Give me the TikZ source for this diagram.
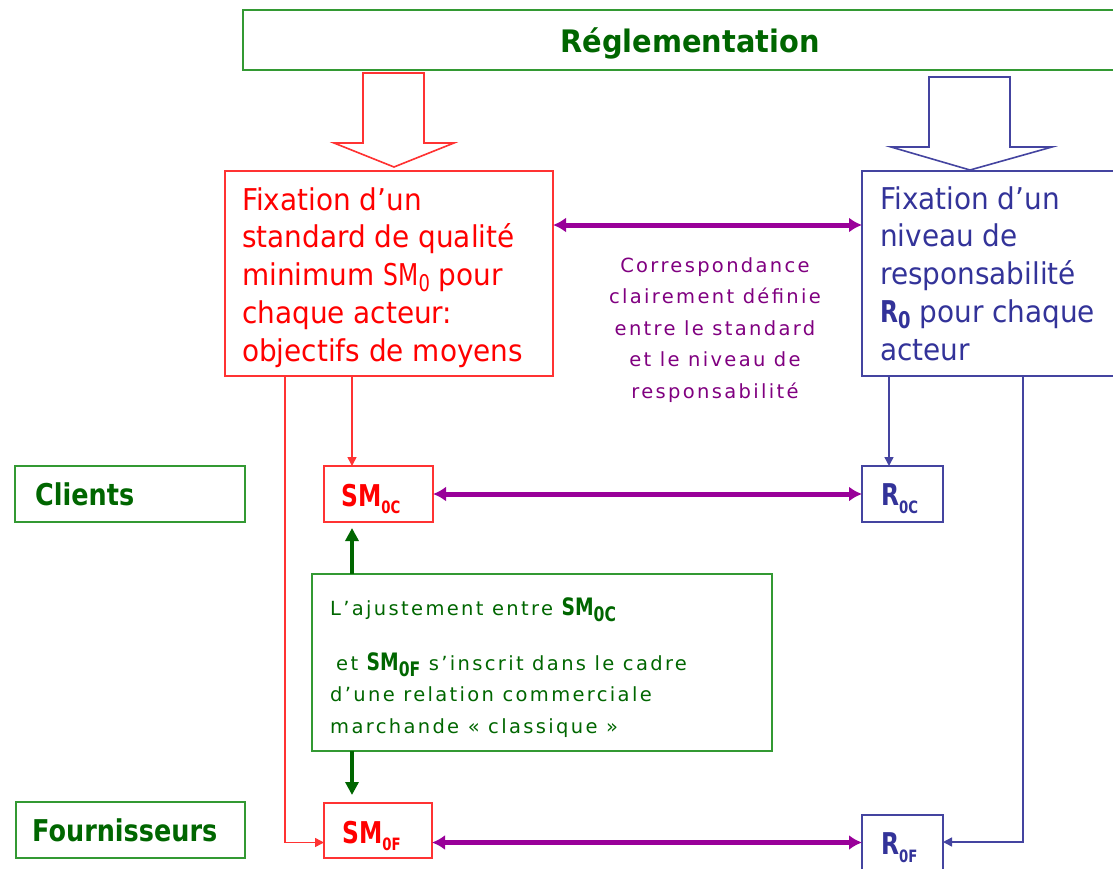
\documentclass[tikz,border=0pt]{standalone}
\usepackage{fontspec}
\setmainfont{DejaVu Sans}
\newfontfamily\spacedfont[LetterSpace=12]{DejaVu Sans}
\newfontfamily\slimfont[FakeStretch=0.93]{DejaVu Sans}
\newfontfamily\labfont[FakeStretch=0.85]{DejaVu Sans}
\newfontfamily\narrowfont[FakeStretch=0.78]{DejaVu Sans}
\usetikzlibrary{arrows.meta}
\definecolor{gtext}{HTML}{006600}
\definecolor{gline}{HTML}{339933}
\definecolor{rtext}{HTML}{FF0000}
\definecolor{rline}{HTML}{FF3333}
\definecolor{btext}{HTML}{333399}
\definecolor{bline}{HTML}{4444A0}
\definecolor{ptext}{HTML}{800080}
\definecolor{pline}{HTML}{990099}
\newcommand{\sbs}[3]{\raisebox{-#1pt}{\fontsize{#2}{#2}\selectfont #3}}
\tikzset{
 box/.style={draw, line width=1.6pt, inner sep=0pt, outer sep=0pt, anchor=north west},
 gbox/.style={box, draw=gline},
 rbox/.style={box, draw=rline},
 bbox/.style={box, draw=bline},
 bigtext/.style={font=\slimfont\fontsize{30}{37.7}\selectfont, align=left, anchor=base west, inner sep=0pt},
 smalltext/.style={font=\spacedfont\fontsize{19.5}{31.5}\selectfont, inner sep=0pt},
 labeltext/.style={font=\labfont\bfseries\fontsize{30}{34}\selectfont, text=gtext, anchor=base west, inner sep=0pt},
 celltext/.style={anchor=base west, inner sep=0pt},
 thinarrow/.style={line width=1.5pt, -{Triangle[length=9pt,width=9pt]}},
 corr/.style={draw=pline, line width=5pt, {Latex[length=13pt,width=15pt]}-{Latex[length=13pt,width=15pt]}},
 adjust/.style={draw=gtext, line width=4pt, -{Triangle[length=13pt,width=13pt]}},
 blockarrow/.style={line width=1.6pt, fill=white, line join=miter},
}
\begin{document}
\begin{tikzpicture}[x=1pt,y=-1pt]
\useasboundingbox (0,0) rectangle (1113,869);
% Reglementation
\node[gbox, minimum width=890, minimum height=60] (regl) at (243,10) {};
\node[font=\slimfont\bfseries\fontsize{31}{34}\selectfont, text=gtext, anchor=base, inner sep=0pt] (reglt) at (690,53) {Réglementation};
% block arrows
\draw[blockarrow, draw=rline] (363,73) -- (363,143) -- (334,143) -- (394,167) -- (454,143) -- (424,143) -- (424,73) -- cycle;
\draw[blockarrow, draw=bline] (929,77) -- (929,147) -- (891,147) -- (970,170) -- (1052,147) -- (1010,147) -- (1010,77) -- cycle;
% main boxes
\node[rbox, minimum width=328, minimum height=205] (rbx) at (225,171) {};
\node[bigtext, text=rtext] (rbt) at (242,361) {Fixation d’un\\standard de qualité\\minimum {\narrowfont SM\sbs{6}{23}{0}} pour\\chaque acteur:\\objectifs de moyens};
\node[bbox, minimum width=280, minimum height=205] (bbx) at (862,171) {};
\node[bigtext, text=btext] (bbt) at (880,360) {Fixation d’un\\niveau de\\responsabilité\\{\narrowfont\bfseries R\sbs{6}{23}{0}} pour chaque\\acteur};
\node[smalltext, text=ptext, align=center, anchor=base] (corrt) at (715,398) {Correspondance\\clairement définie\\entre le standard\\et le niveau de\\responsabilité};
% row labels
\node[gbox, minimum width=230, minimum height=56] (cli) at (15,466) {};
\node[labeltext] (clit) at (35,505) {Clients};
\node[gbox, minimum width=229, minimum height=56] (fou) at (16,802) {};
\node[labeltext] (fout) at (32,841) {Fournisseurs};
% small boxes
\node[rbox, minimum width=109, minimum height=56] (smoc) at (324,466) {};
\node[celltext, text=rtext] (smoct) at (341,506) {\narrowfont\fontsize{30}{32}\selectfont\bfseries SM\sbs{7}{17}{0C}};
\node[bbox, minimum width=81, minimum height=56] (roc) at (862,466) {};
\node[celltext, text=btext] (roct) at (881,505) {\narrowfont\fontsize{30}{32}\selectfont\bfseries R\sbs{8}{17}{0C}};
\node[rbox, minimum width=108, minimum height=55] (smof) at (324,803) {};
\node[celltext, text=rtext] (smoft) at (342,843) {\narrowfont\fontsize{30}{32}\selectfont\bfseries SM\sbs{7}{17}{0F}};
\node[bbox, minimum width=81, minimum height=70] (rof) at (862,815) {};
\node[celltext, text=btext] (roft) at (881,854) {\narrowfont\fontsize{30}{32}\selectfont\bfseries R\sbs{8}{17}{0F}};
% green box
\node[gbox, minimum width=460, minimum height=177] (gbx) at (312,574) {};
\node[smalltext, text=gtext, align=left, anchor=base west] (gbt) at (330,733) {L’ajustement entre {\narrowfont\fontsize{24}{24}\selectfont\bfseries SM\sbs{6}{20}{0C}}\\[23.5pt]\hspace*{6pt}et {\narrowfont\fontsize{24}{24}\selectfont\bfseries SM\sbs{6}{20}{0F}} s’inscrit dans le cadre\\d’une relation commerciale\\marchande « classique »};
% connectors
\coordinate (rx) at ([xshift=28pt]smoc.north west);
\draw[thinarrow, draw=rline] (rx |- rbx.south) -- (rx);
\draw[thinarrow, draw=rline] ([xshift=60pt]rbx.south west) |- ([yshift=-12pt]smof.west);
\coordinate (bx) at ([xshift=27pt]roc.north west);
\draw[thinarrow, draw=bline] (bx |- bbx.south) -- (bx);
\draw[thinarrow, draw=bline] ([xshift=161pt]bbx.south west) |- ([yshift=8pt]rof.east);
\draw[corr] ([yshift=-54pt]rbx.north east) -- ([yshift=-54pt]rbx.north east -| bbx.west);
\draw[corr] (smoc.east) -- (smoc.east -| roc.west);
\draw[corr] ([yshift=-12pt]smof.east) -- ([yshift=-12pt]smof.east -| rof.west);
\coordinate (gx) at ([xshift=40pt]gbx.north west);
\draw[adjust, shorten >=6pt] (gx) -- (gx |- smoc.south);
\draw[adjust, shorten >=8pt] (gx |- gbx.south) -- (gx |- smof.north);
\end{tikzpicture}
\end{document}
